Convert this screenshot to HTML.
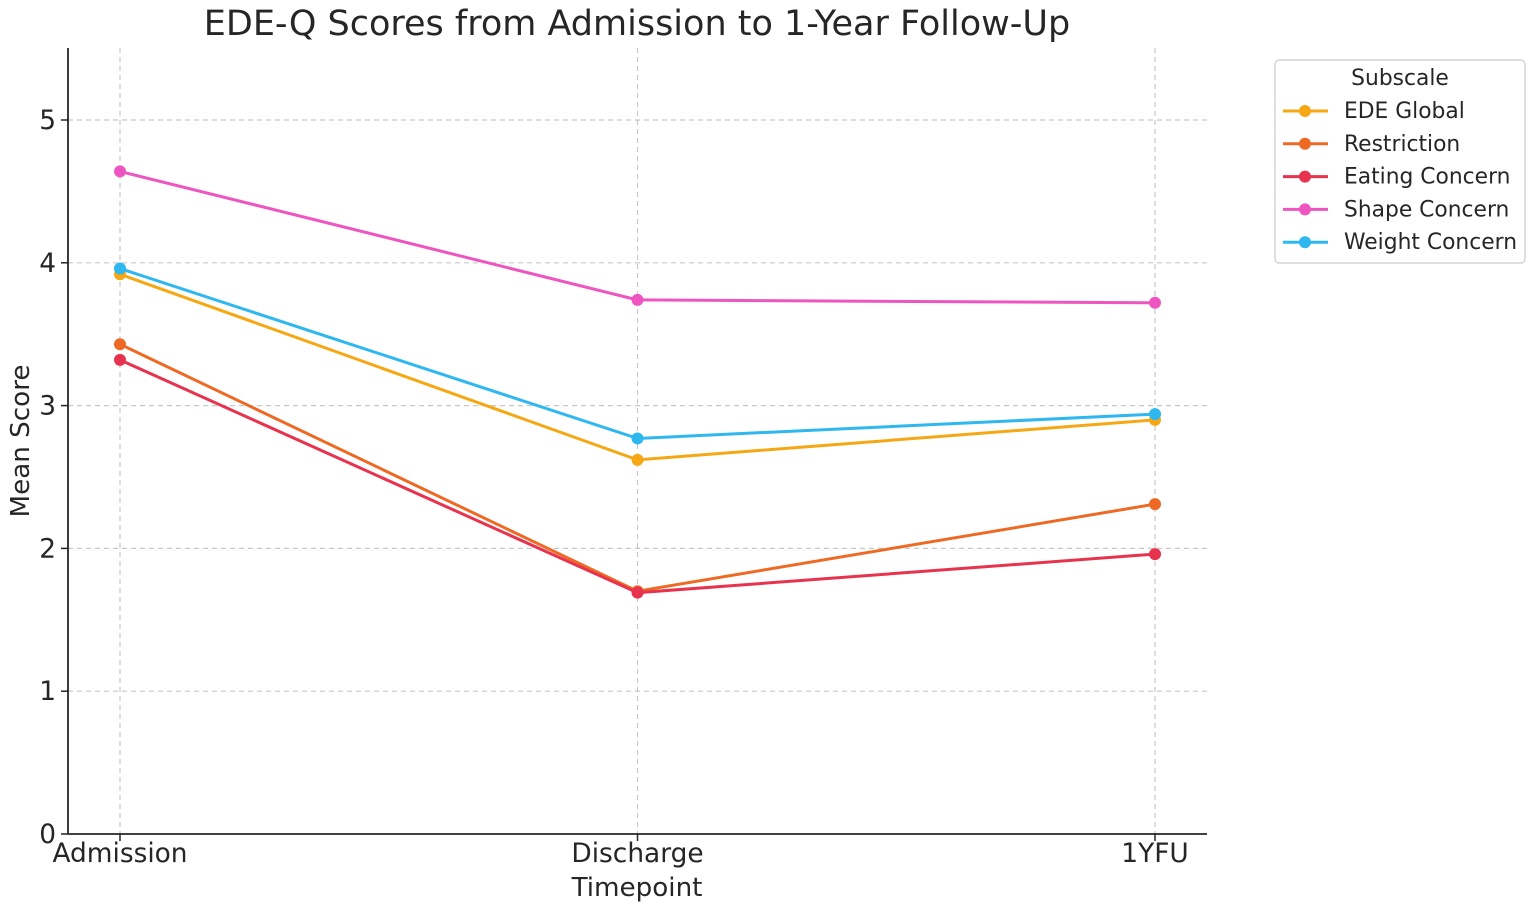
<!DOCTYPE html>
<html><head><meta charset="utf-8"><style>
html,body{margin:0;padding:0;background:#fff;}
svg{display:block;font-family:"DejaVu Sans","Liberation Sans",sans-serif;}
</style></head><body>
<svg id="chart" width="1535" height="908" viewBox="0 0 1535 908" xmlns="http://www.w3.org/2000/svg">
<text x="637" y="35" font-size="35" text-anchor="middle" fill="#262626">EDE-Q Scores from Admission to 1-Year Follow-Up</text>
<g id="grid"></g>
<g id="axes"></g>
<g id="series"></g>
<text x="637" y="896" font-size="26.2" text-anchor="middle" fill="#262626">Timepoint</text>
<text transform="translate(29,441) rotate(-90)" font-size="26.2" text-anchor="middle" fill="#262626">Mean Score</text>
<g id="legend"></g>
</svg>
<script>
const categories = ["Admission","Discharge","1YFU"];
const seriesNames = ["EDE Global","Restriction","Eating Concern","Shape Concern","Weight Concern"];
const globalVals = [3.92, 2.62, 2.90];
const restrictionVals = [3.43, 1.70, 2.31];
const eatingVals = [3.32, 1.69, 1.96];
const shapeVals = [4.64, 3.74, 3.72];
const weightVals = [3.96, 2.77, 2.94];
const yTicks = [0,1,2,3,4,5];

const NS = "http://www.w3.org/2000/svg";
const colors = ["#f5a814","#ee6a24","#e8334f","#ee55c0","#2fb8ef"];
const allVals = [globalVals, restrictionVals, eatingVals, shapeVals, weightVals];
const x0 = 120, x1 = 1155, yBase = 834, yPer = 142.8;
function xScale(i){ return x0 + i*(x1-x0)/(categories.length-1); }
function yScale(v){ return yBase - v*yPer; }
function mk(tag, attrs, parent){ const e=document.createElementNS(NS,tag); for(const k in attrs) e.setAttribute(k,attrs[k]); parent.appendChild(e); return e; }

const grid = document.getElementById('grid');
const axes = document.getElementById('axes');
yTicks.forEach(t=>{
  if(t>0){
    const gl = mk('line',{x1:68,x2:1207,y1:yScale(t),y2:yScale(t),stroke:'#c8c8c8','stroke-width':1.2,'stroke-dasharray':'5,4'},grid);
    
    
  }
  const tk = mk('line',{x1:61,x2:68,y1:yScale(t),y2:yScale(t),stroke:'#262626','stroke-width':1.5},axes);
  
  
  const tl = mk('text',{x:56,y:yScale(t)+9,'font-size':26.4,'text-anchor':'end',fill:'#262626'},axes);
  tl.textContent = t;
  
  
});
categories.forEach((c,i)=>{
  const gl = mk('line',{x1:xScale(i),x2:xScale(i),y1:48,y2:834,stroke:'#c8c8c8','stroke-width':1.2,'stroke-dasharray':'5,4'},grid);
  
  
  const tk = mk('line',{x1:xScale(i),x2:xScale(i),y1:834,y2:841,stroke:'#262626','stroke-width':1.5},axes);
  
  
  const tl = mk('text',{x:xScale(i),y:862,'font-size':26.4,'text-anchor':'middle',fill:'#262626'},axes);
  tl.textContent = c;
  
  
});
const ya = mk('line',{x1:68,x2:68,y1:48,y2:834,stroke:'#262626','stroke-width':1.8},axes);


const xa = mk('line',{x1:68,x2:1207,y1:834,y2:834,stroke:'#262626','stroke-width':1.8},axes);



const sg = document.getElementById('series');
allVals.forEach((vals,s)=>{
  const pts = vals.map((v,i)=>xScale(i)+','+yScale(v)).join(' ');
  const pl = mk('polyline',{points:pts,fill:'none',stroke:colors[s],'stroke-width':3},sg);
  
  
  vals.forEach((v,i)=>{
    const c = mk('circle',{cx:xScale(i),cy:yScale(v),r:6,fill:colors[s]},sg);
    
    
  });
});

const lg = document.getElementById('legend');
const box = mk('rect',{x:1275,y:60,width:250,height:203,rx:4,fill:'#fff',stroke:'#cccccc','stroke-width':1.2},lg);


const lt = mk('text',{x:1400,y:85,'font-size':21.8,'text-anchor':'middle',fill:'#262626'},lg);
lt.textContent = 'Subscale';


seriesNames.forEach((n,s)=>{
  const y = 111 + s*32.8;
  const l = mk('line',{x1:1283,x2:1328,y1:y,y2:y,stroke:colors[s],'stroke-width':3},lg);
  
  
  const c = mk('circle',{cx:1305,cy:y,r:6,fill:colors[s]},lg);
  
  
  const t = mk('text',{x:1344,y:y+7,'font-size':21.8,fill:'#262626'},lg);
  t.textContent = n;
  
  
});
</script>
</body></html>
